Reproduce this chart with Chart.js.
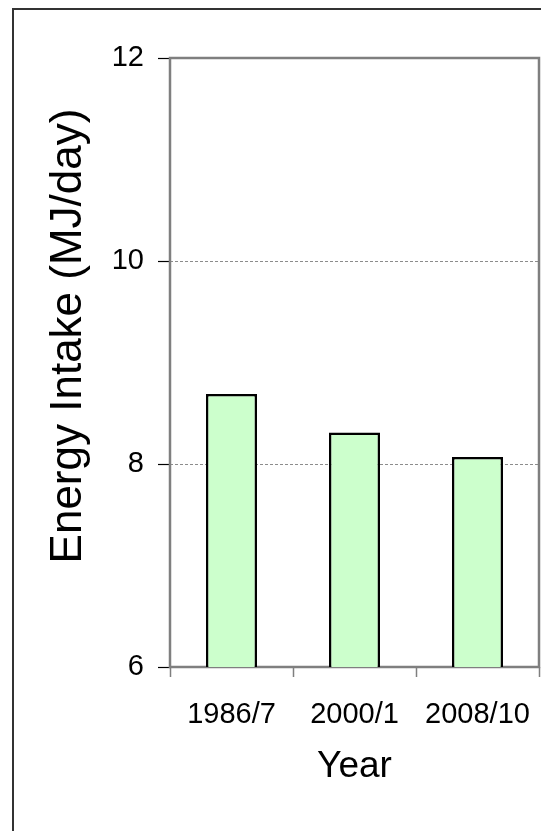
<!DOCTYPE html>
<html>
<head>
<meta charset="utf-8">
<script src="https://cdn.jsdelivr.net/npm/chart.js@4.4.1/dist/chart.umd.min.js"></script>
<style>
  html, body { margin: 0; padding: 0; background: #ffffff; }
  #wrap { width: 541px; height: 831px; }
</style>
</head>
<body>
<div id="wrap"><canvas id="chart" width="541" height="831"></canvas></div>
<script>
// Survey periods and mean daily energy intake
const periods = ['1986/7', '2000/1', '2008/10'];
const energyIntake = [8.69, 8.31, 8.07];
const yTicks = [6, 8, 10, 12];
const yTitle = 'Energy Intake (MJ/day)';
const xTitle = 'Year';

const FONT = '"Liberation Sans", Arial, Helvetica, sans-serif';

// Outer frame of the figure, the grey box round the plot area,
// and the vertical axis title (sits a little above the plot's centre)
const framePlugin = {
  id: 'frames',
  beforeDatasetsDraw(chart) {
    const { ctx, chartArea: a } = chart;
    ctx.save();
    ctx.strokeStyle = '#7f7f7f';
    ctx.lineWidth = 2.5;
    ctx.strokeRect(a.left, a.top, a.right - a.left, a.bottom - a.top);
    ctx.restore();
  },
  afterDraw(chart) {
    const { ctx, width, height } = chart;
    ctx.save();
    ctx.strokeStyle = '#333333';
    ctx.lineWidth = 2;
    ctx.beginPath();
    ctx.moveTo(13, height);
    ctx.lineTo(13, 9);
    ctx.lineTo(width, 9);
    ctx.stroke();
    ctx.restore();

    ctx.save();
    ctx.translate(69, 336);
    ctx.rotate(-Math.PI / 2);
    ctx.fillStyle = '#000000';
    ctx.font = '44px ' + FONT;
    ctx.textAlign = 'center';
    ctx.textBaseline = 'middle';
    ctx.fillText(yTitle, 0, 0);
    ctx.restore();
  }
};

new Chart(document.getElementById('chart'), {
  type: 'bar',
  data: {
    labels: periods,
    datasets: [{
      data: energyIntake,
      backgroundColor: '#ccffcc',
      borderColor: '#000000',
      borderWidth: 2.5,
      borderSkipped: false,
      categoryPercentage: 1,
      barPercentage: 0.415
    }]
  },
  options: {
    responsive: false,
    animation: false,
    events: [],
    layout: { padding: { left: 0, right: 2, top: 58, bottom: 0 } },
    plugins: {
      legend: { display: false },
      tooltip: { enabled: false }
    },
    scales: {
      x: {
        offset: true,
        grid: {
          offset: true,
          drawOnChartArea: false,
          drawTicks: true,
          tickLength: 10,
          tickColor: '#7f7f7f',
          tickWidth: 1.5
        },
        border: { display: false },
        ticks: {
          color: '#000000',
          font: { family: FONT, size: 29 },
          padding: 21,
          maxRotation: 0,
          autoSkip: false
        },
        title: {
          display: true,
          text: xTitle,
          color: '#000000',
          font: { family: FONT, size: 37 },
          padding: { top: 0, bottom: 42 }
        },
        afterFit(scale) {
          scale.height = 164;
          scale.paddingLeft = 0;
          scale.paddingRight = 0;
        }
      },
      y: {
        min: 6,
        max: 12,
        afterBuildTicks(scale) { scale.ticks = yTicks.map(v => ({ value: v })); },
        grid: {
          color: ctx => (ctx.tick && (ctx.tick.value === 6 || ctx.tick.value === 12)) ? 'rgba(0,0,0,0)' : '#8c8c8c',
          lineWidth: 1,
          drawTicks: true,
          tickLength: 12,
          tickColor: '#000000',
          tickWidth: 1.2,
          tickBorderDash: []
        },
        border: { display: false, dash: [3, 2] },
        ticks: {
          color: '#000000',
          font: { family: FONT, size: 29 },
          padding: 14
        },
        title: { display: false },
        afterFit(scale) { scale.width = 170; }
      }
    }
  },
  plugins: [framePlugin]
});
</script>
</body>
</html>
